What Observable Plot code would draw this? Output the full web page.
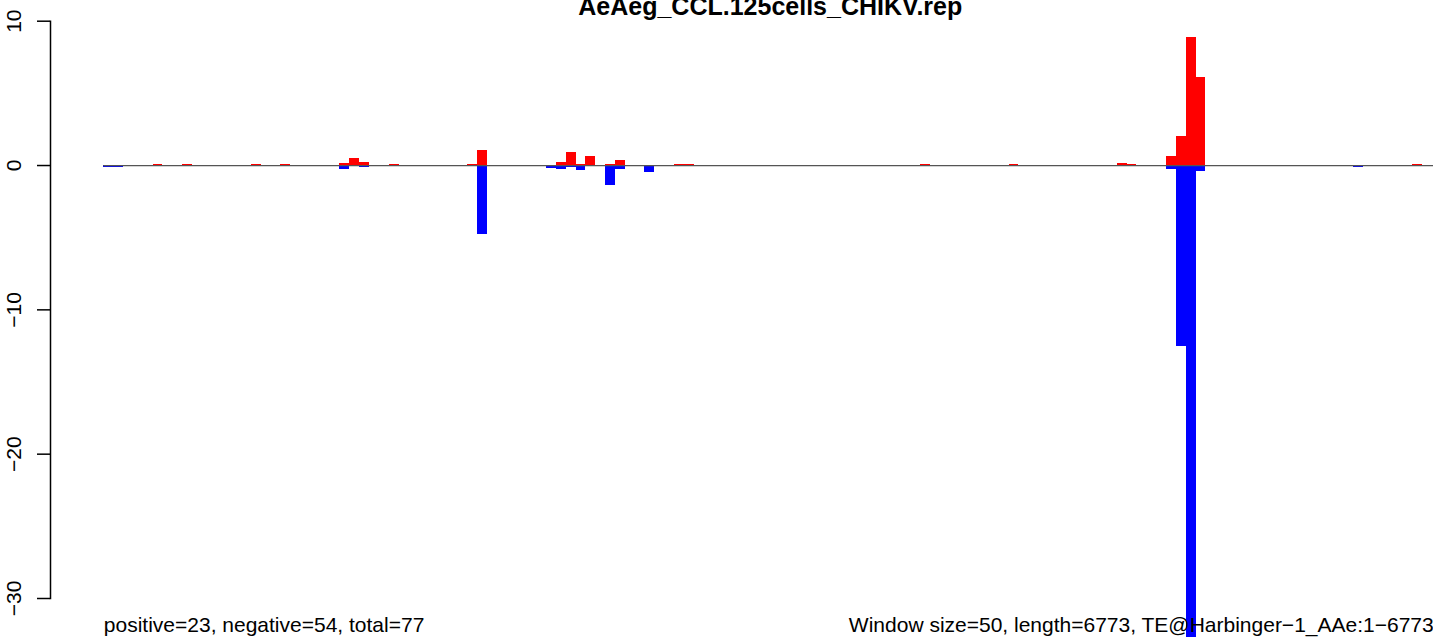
<!DOCTYPE html>
<html>
<head>
<meta charset="utf-8">
<script src="https://cdn.jsdelivr.net/npm/d3@7"></script>
<script src="https://cdn.jsdelivr.net/npm/@observablehq/plot@0.6"></script>
<style>
  html, body { margin: 0; padding: 0; background: #fff; overflow: hidden; }
</style>
</head>
<body>
<div id="chart"></div>
<script>
// ---- data ----
const titleText = "AeAeg_CCL.125cells_CHIKV.rep";
const windowSize = 50;
const seqLength = 6773;

// window index (0-based, 50 bp each) and values, positive strand
const posWindows = [5, 8, 15, 18, 24, 25, 26, 29, 37, 38, 46, 47, 48, 49, 51, 52, 58, 59, 83, 92, 103, 104, 108, 109, 110, 111, 133];
const posValues  = [0.1, 0.05, 0.1, 0.1, 0.16, 0.5, 0.21, 0.05, 0.1, 1.04, 0.21, 0.9, 0.07, 0.62, 0.07, 0.35, 0.05, 0.07, 0.05, 0.08, 0.15, 0.05, 0.64, 2.02, 8.87, 6.1, 0.05];

// negative strand
const negWindows = [0, 1, 24, 26, 30, 38, 45, 46, 47, 48, 51, 52, 54, 55, 82, 103, 108, 109, 110, 111, 126, 127];
const negValues  = [-0.15, -0.15, -0.28, -0.14, -0.07, -4.78, -0.19, -0.28, -0.12, -0.35, -1.39, -0.28, -0.07, -0.48, -0.07, -0.07, -0.25, -12.54, -36, -0.4, -0.08, -0.16];

const yTicks = [-30, -20, -10, 0, 10];
const yTickLabels = ["\u221230", "\u221220", "\u221210", "0", "10"];

const leftNote = "positive=23, negative=54, total=77";
const rightNote = "Window size=50, length=6773, TE@Harbinger\u22121_AAe:1\u22126773";

// ---- build tables ----
const pos = posWindows.map((w, k) => ({w, v: posValues[k]}));
const neg = negWindows.map((w, k) => ({w, v: negValues[k]}));

const W = 1433, H = 637;
const mTop = 20.7, mBottom = 39, mLeft = 50;
const pad = 0.04 * seqLength;

const chart = Plot.plot({
  width: W,
  height: H,
  marginTop: mTop,
  marginBottom: mBottom,
  marginLeft: mLeft,
  marginRight: 0,
  style: {
    fontFamily: "'Liberation Sans', Arial, Helvetica, sans-serif",
    fontSize: "21px",
    background: "white",
    color: "black",
    overflow: "visible"
  },
  x: {domain: [-pad, seqLength + pad], range: [mLeft, 1489.5], axis: null},
  y: {domain: [-30, 10], axis: null},
  marks: [
    Plot.rect(pos, {
      x1: d => d.w * windowSize, x2: d => (d.w + 1) * windowSize,
      y1: 0, y2: d => d.v, fill: "#FF0000", shapeRendering: "crispEdges"
    }),
    Plot.rect(neg, {
      x1: d => d.w * windowSize, x2: d => (d.w + 1) * windowSize,
      y1: 0, y2: d => d.v, fill: "#0000FF", shapeRendering: "crispEdges"
    }),
    Plot.ruleY([0], {x1: 0, x2: seqLength, stroke: "#555555", strokeWidth: 1.2}),
    Plot.frame({anchor: "left", stroke: "black", strokeWidth: 1.5}),
    Plot.axisY(yTicks, {
      tickSize: 13, tickPadding: 17, tickRotate: -90, fontSize: 21,
      tickFormat: d => yTickLabels[yTicks.indexOf(d)],
      label: null, stroke: "black", strokeWidth: 1.5, fill: "black"
    }),
    Plot.text([titleText], {
      x: () => seqLength / 2, frameAnchor: "top", dy: -6.7,
      text: d => d, textAnchor: "middle", lineAnchor: "bottom",
      fontSize: 25, fontWeight: "bold", fill: "black"
    }),
    Plot.text([leftNote], {
      x: () => 0, frameAnchor: "bottom", dy: 33,
      text: d => d, textAnchor: "start", lineAnchor: "bottom",
      fontSize: 21, fill: "black"
    }),
    Plot.text([rightNote], {
      x: () => seqLength, frameAnchor: "bottom", dy: 33, dx: -3,
      text: d => d, textAnchor: "end", lineAnchor: "bottom",
      fontSize: 21, fill: "black"
    })
  ]
});
document.getElementById("chart").appendChild(chart);
</script>
</body>
</html>
